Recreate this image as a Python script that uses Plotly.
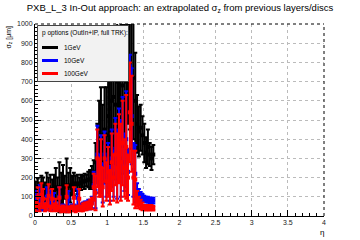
import plotly.graph_objects as go

eta = [0.0125, 0.0375, 0.0625, 0.0875, 0.1125, 0.1375, 0.1625, 0.1875,
       0.2125, 0.2375, 0.2625, 0.2875, 0.3125, 0.3375, 0.3625, 0.3875,
       0.4125, 0.4375, 0.4625, 0.4875, 0.5125, 0.5375, 0.5625, 0.5875,
       0.6125, 0.6375, 0.6625, 0.6875, 0.7125, 0.7375, 0.7625, 0.7875,
       0.8125, 0.8375, 0.8625, 0.8875, 0.9125, 0.9375, 0.9625, 0.9875,
       1.0125, 1.0375, 1.0625, 1.0875, 1.1125, 1.1375, 1.1625, 1.1875,
       1.2125, 1.2375, 1.2625, 1.2875, 1.3125, 1.3375, 1.3625, 1.3875,
       1.4125, 1.4375, 1.4625, 1.4875, 1.5125, 1.5375, 1.5625, 1.5875,
       1.6125, 1.6375]

sig_1GeV = [120, 115, 125, 120, 130, 125, 135, 140,
            135, 140, 145, 150, 140, 150, 145, 155,
            150, 160, 155, 160, 160, 165, 170, 165,
            170, 175, 180, 180, 185, 190, 190, 200,
            230, 280, 330, 400, 420, 380, 450, 420,
            520, 560, 600, 620, 580, 700, 640, 760,
            680, 820, 700, 780, 750, 700, 720, 600,
            480, 440, 460, 420, 380, 330, 360, 320,
            300, 320]
err_1GeV = [60, 80, 50, 90, 70, 50, 90, 60,
            80, 50, 70, 100, 60, 130, 80, 110,
            60, 140, 70, 90, 50, 60, 40, 50,
            30, 40, 30, 40, 30, 40, 50, 60,
            60, 100, 150, 200, 250, 200, 220, 250,
            250, 300, 300, 350, 300, 400, 350, 380,
            320, 400, 350, 300, 300, 350, 320, 250,
            150, 130, 120, 100, 100, 80, 90, 60,
            60, 50]

sig_10GeV = [90, 50, 110, 60, 50, 45, 100, 50,
             95, 45, 80, 50, 45, 100, 40, 45,
             40, 40, 90, 40, 45, 45, 40, 95,
             45, 50, 50, 55, 55, 60, 60, 70,
             160, 130, 320, 220, 270, 170, 320, 200,
             250, 170, 300, 220, 350, 270, 380, 300,
             420, 280, 400, 230, 780, 520, 240, 220,
             130, 110, 100, 95, 90, 85, 85, 80,
             80, 80]
err_10GeV = [40, 20, 50, 30, 20, 15, 50, 20,
             40, 15, 40, 20, 15, 50, 15, 15,
             15, 15, 40, 15, 15, 15, 15, 45,
             15, 15, 20, 20, 20, 25, 25, 30,
             70, 90, 150, 100, 150, 100, 120, 100,
             130, 90, 150, 120, 160, 180, 180, 200,
             200, 150, 250, 120, 60, 250, 140, 150,
             40, 30, 25, 20, 15, 15, 15, 15,
             15, 15]

sig_100GeV = [50, 100, 45, 110, 90, 45, 60, 105,
              40, 90, 45, 60, 40, 95, 35, 40,
              35, 100, 35, 35, 40, 95, 35, 40,
              90, 40, 45, 50, 50, 55, 60, 65,
              150, 120, 300, 200, 250, 150, 300, 180,
              230, 150, 280, 200, 320, 250, 350, 280,
              380, 250, 360, 200, 540, 480, 200, 190,
              90, 70, 60, 50, 45, 40, 45, 40,
              45, 40]
err_100GeV = [25, 50, 20, 60, 50, 20, 30, 60,
              15, 50, 20, 30, 15, 55, 15, 15,
              15, 60, 15, 15, 15, 55, 15, 15,
              50, 15, 20, 20, 20, 20, 25, 30,
              70, 90, 150, 100, 150, 100, 120, 100,
              130, 90, 150, 120, 160, 180, 180, 200,
              220, 150, 270, 120, 260, 250, 140, 150,
              40, 30, 25, 20, 12, 12, 12, 12,
              12, 12]

series = [("1GeV", sig_1GeV, err_1GeV, "black"),
          ("10GeV", sig_10GeV, err_10GeV, "#0000ff"),
          ("100GeV", sig_100GeV, err_100GeV, "#ff0000")]

legend_title = "p options (OutIn+IP, full TRK):"
x_ticks = [0, 0.5, 1, 1.5, 2, 2.5, 3, 3.5, 4]
y_ticks = [0, 100, 200, 300, 400, 500, 600, 700, 800, 900, 1000]

FONT = "Liberation Sans, Arial, sans-serif"
fig = go.Figure()
for name, vals, errs, col in series:
    fig.add_trace(go.Scatter(
        x=eta, y=vals, mode="markers", name=name,
        marker=dict(symbol="square", size=4, color=col, line=dict(width=0)),
        error_y=dict(type="data", array=errs, color=col, thickness=2, width=2),
        showlegend=False, cliponaxis=True))

W, H = 360, 240
L, R, T, B = 35, 36, 24, 24
pw, ph = W - L - R, H - T - B

def px(xp):
    return (xp - L) / pw

def py(yp):
    return 1 - (yp - T) / ph

shapes = []
annotations = []
# dashed top and right frame
shapes.append(dict(type="line", xref="paper", yref="paper", x0=0, x1=1, y0=1, y1=1,
                   line=dict(color="black", width=1, dash="dot")))
shapes.append(dict(type="line", xref="paper", yref="paper", x0=1, x1=1, y0=0, y1=1,
                   line=dict(color="black", width=1, dash="dot")))
# legend box
shapes.append(dict(type="rect", xref="paper", yref="paper",
                   x0=px(37.5), x1=px(128.5), y0=py(81.5), y1=py(25.5),
                   fillcolor="#f2f2f2", line=dict(color="#444444", width=1)))
annotations.append(dict(text=legend_title, xref="paper", yref="paper", x=px(40), y=py(33),
                        xanchor="left", yanchor="middle", showarrow=False,
                        font=dict(family=FONT, size=6.5, color="black")))
for i, (name, _, _, col) in enumerate(series):
    yy = py(47.5 + 13 * i)
    shapes.append(dict(type="line", xref="paper", yref="paper", x0=px(42), x1=px(58),
                       y0=yy, y1=yy, line=dict(color=col, width=3)))
    annotations.append(dict(text=name, xref="paper", yref="paper", x=px(62), y=yy,
                            xanchor="left", yanchor="middle", showarrow=False,
                            font=dict(family=FONT, size=6.5, color="black")))
# axis titles
annotations.append(dict(text="σ<sub>z</sub> [μm]", xref="paper", yref="paper",
                        x=px(8), y=1.0, xanchor="center", yanchor="top", textangle=-90,
                        showarrow=False, font=dict(family=FONT, size=7, color="black")))
annotations.append(dict(text="η", xref="paper", yref="paper", x=px(322), y=py(232),
                        xanchor="center", yanchor="middle", showarrow=False,
                        font=dict(family=FONT, size=8, color="black")))

fig.update_layout(
    width=W, height=H, margin=dict(l=L, r=R, t=T, b=B, pad=0),
    paper_bgcolor="white", plot_bgcolor="white",
    title=dict(text="PXB_L_3 In-Out approach: an extrapolated σ<sub>z</sub> from previous layers/discs",
               x=0.5, xanchor="center", y=1 - 8 / H, yanchor="middle",
               font=dict(family=FONT, size=9.5, color="black")),
    font=dict(family=FONT, size=7, color="#222222"),
    shapes=shapes, annotations=annotations,
    xaxis=dict(range=[0, 4], tickvals=x_ticks, ticktext=[f"{v:g}" for v in x_ticks],
               showgrid=True, gridcolor="#bbbbbb", griddash="dot", gridwidth=1,
               zeroline=False, showline=True, linecolor="black", linewidth=1,
               ticks="inside", ticklen=6, tickcolor="black", tickwidth=1,
               minor=dict(dtick=0.1, ticks="inside", ticklen=3, tickcolor="black", showgrid=False),
               tickfont=dict(family=FONT, size=7, color="#222222")),
    yaxis=dict(range=[0, 1000], tickvals=y_ticks, ticktext=[str(v) for v in y_ticks],
               showgrid=True, gridcolor="#bbbbbb", griddash="dot", gridwidth=1,
               zeroline=False, showline=True, linecolor="black", linewidth=1,
               ticks="inside", ticklen=6, tickcolor="black", tickwidth=1,
               minor=dict(dtick=20, ticks="inside", ticklen=3, tickcolor="black", showgrid=False),
               tickfont=dict(family=FONT, size=7, color="#222222")),
)

fig.write_html("out.html")
